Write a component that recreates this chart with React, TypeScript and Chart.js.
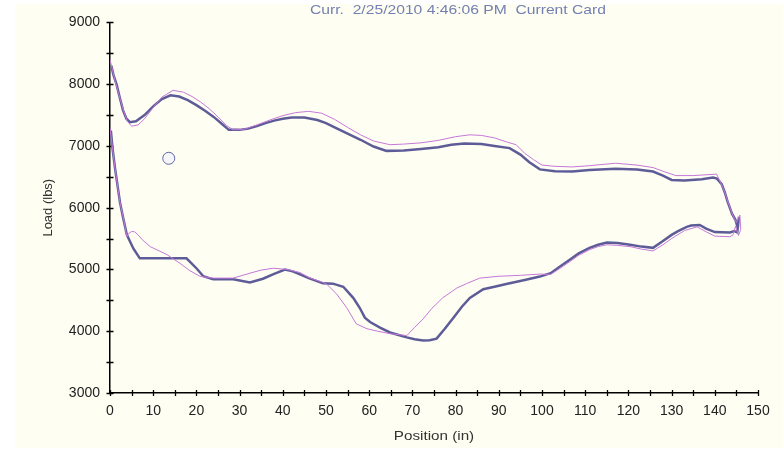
import { useEffect, useRef } from "react";
import { Chart, registerables } from "chart.js";

Chart.register(...registerables);

const titleText = "Curr.  2/25/2010 4:46:06 PM  Current Card";
const xTitle = "Position (in)";
const yTitle = "Load (lbs)";

// Thick (dark) card: upper stroke left->right, then lower stroke right->left
const darkPos = [
  0.3, 0.8, 1.5, 2.2, 3, 3.8, 4.6, 6, 8, 10, 12, 14, 16, 18, 20, 22, 24, 26, 27.5, 30, 32, 34, 36, 38, 40, 42, 45, 48, 50, 52, 55, 58, 61, 64, 68, 72, 76, 79, 82, 86, 89, 92.5, 95, 97, 99.5, 103, 107, 111, 117, 122, 125.7, 128, 130, 133, 137, 139.6, 140.5, 141.6, 142.3, 143, 144, 144.8, 145.3, 145.6, 145.2, 144.5,
  143.5, 140, 138, 136.5, 134.5, 133.5, 131.5, 130, 128, 125.7, 123, 120.4, 117.5, 115, 113, 111, 108.5, 106.5, 104, 102, 99.5, 96, 92, 89, 86.4, 83.3, 81.5, 79.5, 77.5, 75.6, 74, 72.5, 70.5, 68.7, 66.8, 64.8, 62.5, 60.2, 59, 57.8, 56.3, 54, 51.6, 49.3, 46, 44, 42.3, 40.5, 38, 35.4, 32.4, 28.5, 23.9, 21.6, 20, 17.7, 12, 6.9, 5.4, 3.9, 3, 2.3, 1.2, 0.6, 0.2,
];
const darkLoad = [
  8300, 8150, 8000, 7800, 7580, 7440, 7385, 7400, 7500, 7640, 7760, 7820, 7800, 7740, 7660, 7570, 7470, 7350, 7260, 7260, 7280, 7320, 7370, 7410, 7440, 7460, 7460, 7420, 7370, 7300, 7200, 7100, 6990, 6920, 6925, 6950, 6980, 7020, 7040, 7030, 7000, 6965, 6860, 6740, 6620, 6590, 6585, 6610, 6630, 6620, 6585, 6520, 6450, 6440, 6460, 6490, 6470, 6380, 6250, 6090, 5900, 5800, 5680, 5850, 5600, 5620,
  5600, 5605, 5660, 5720, 5710, 5690, 5620, 5560, 5460, 5350, 5370, 5400, 5430, 5437, 5400, 5350, 5260, 5160, 5040, 4940, 4885, 4830, 4770, 4720, 4680, 4540, 4400, 4220, 4040, 3880, 3855, 3850, 3870, 3900, 3940, 3980, 4060, 4150, 4220, 4380, 4540, 4720, 4770, 4775, 4860, 4920, 4970, 5000, 4930, 4850, 4790, 4840, 4840, 4890, 5020, 5180, 5180, 5180, 5340, 5560, 5850, 6090, 6620, 6950, 7250,
];

// Thin (pink) card
const pinkPos = [
  0, 0.5, 1.2, 2, 3, 4, 5, 6.5, 8, 10, 12, 14.6, 17, 19, 21, 23, 25, 27, 28.5, 31, 34, 37, 40, 43, 46, 49, 52, 55, 58, 61, 64.8, 68, 72, 76, 80, 83.3, 86, 89, 92, 94, 96, 98, 100, 103, 107, 111, 117, 122, 125.7, 128, 131, 135, 139.6, 140.4, 141.4, 142.3, 143.2, 144.2, 145, 145.8, 146, 145.5, 144.8, 144.2,
  143.5, 140, 138, 135.9, 133, 130, 128, 125.7, 123, 120.4, 117.5, 115, 113, 111, 108.5, 106.5, 104, 102, 99.5, 95, 90, 85.6, 82.5, 80.3, 77, 74.5, 72.5, 70.5, 68.7, 66.8, 64.8, 62, 59.5, 57, 54.8, 52.5, 50.2, 49.3, 46, 44, 41, 37.8, 35, 32.4, 28.5, 24, 20.8, 18.5, 16.2, 13.2, 9.3, 7.5, 6.5, 5.7, 5, 4.3, 3.9, 3.2, 2.3, 1.2, 0.5, 0,
];
const pinkLoad = [
  8400, 8250, 8050, 7850, 7600, 7400, 7320, 7340, 7440, 7620, 7790, 7900, 7870, 7800, 7710, 7600, 7470, 7330, 7260, 7270, 7340, 7420, 7490, 7540, 7560, 7530, 7430, 7300, 7180, 7080, 7020, 7030, 7050, 7090, 7150, 7180, 7170, 7130, 7060, 7020, 6880, 6780, 6690, 6670, 6660, 6680, 6720, 6690, 6650, 6590, 6520, 6520, 6540, 6545, 6400, 6250, 6060, 5870, 5760, 5880, 5650, 5550, 5700, 5560,
  5530, 5540, 5610, 5690, 5630, 5500, 5400, 5300, 5330, 5370, 5390, 5400, 5370, 5320, 5230, 5130, 5010, 4920, 4925, 4905, 4890, 4860, 4770, 4700, 4540, 4370, 4200, 4060, 3930, 3945, 3960, 4000, 4040, 4120, 4380, 4600, 4760, 4790, 4870, 4950, 5000, 5020, 4990, 4940, 4860, 4860, 4890, 4980, 5100, 5240, 5370, 5480, 5560, 5610, 5615, 5580, 5530, 5800, 6090, 6620, 7000, 7300,
];

// Small circle marker
const markerPos = [13.6];
const markerLoad = [6800];

const xMin = 0, xMax = 150, xStep = 5, xLabelEvery = 10;
const yMin = 3000, yMax = 9000, yStep = 500, yLabelEvery = 1000;

const FONT = "'Liberation Sans', Arial, sans-serif";

const toPts = (xs: number[], ys: number[]) => xs.map((x, i) => ({ x, y: ys[i] }));

const crossTicks = {
  id: "crossTicks",
  beforeDatasetsDraw(chart: any) {
    const ctx = chart.ctx;
    const xs = chart.scales.x;
    const ys = chart.scales.y;
    const area = chart.chartArea;
    ctx.save();
    ctx.strokeStyle = "#000";
    ctx.lineWidth = 1.3;
    ctx.beginPath();
    xs.ticks.forEach((t: any) => {
      const px = Math.round(xs.getPixelForValue(t.value)) + 0.5;
      ctx.moveTo(px, area.bottom - 3);
      ctx.lineTo(px, area.bottom + 3);
    });
    ys.ticks.forEach((t: any) => {
      const py = Math.round(ys.getPixelForValue(t.value)) + 0.5;
      ctx.moveTo(area.left - 3.5, py);
      ctx.lineTo(area.left + 3.5, py);
    });
    ctx.stroke();
    ctx.restore();
  },
  afterDraw(chart: any) {
    const ctx = chart.ctx;
    const area = chart.chartArea;
    ctx.save();
    ctx.fillStyle = "#7480b4";
    ctx.font = `13.5px ${FONT}`;
    ctx.textAlign = "center";
    ctx.textBaseline = "alphabetic";
    ctx.save();
    ctx.translate(443, 10);
    ctx.scale(1.16, 1);
    ctx.fillText(titleText, 0, 0);
    ctx.restore();

    ctx.fillStyle = "#333";
    ctx.font = `13px ${FONT}`;
    ctx.textBaseline = "middle";
    ctx.save();
    ctx.translate((area.left + area.right) / 2, 432);
    ctx.scale(1.17, 1);
    ctx.fillText(xTitle, 0, 0);
    ctx.restore();

    ctx.translate(33, (area.top + area.bottom) / 2);
    ctx.rotate(-Math.PI / 2);
    ctx.fillText(yTitle, 0, 0);
    ctx.restore();
  },
};

export default function App() {
  const ref = useRef<HTMLCanvasElement | null>(null);
  useEffect(() => {
    if (!ref.current) return;
    const chart = new Chart(ref.current, {
      type: "scatter",
      data: {
        datasets: [
          {
            label: "pink",
            data: toPts(pinkPos, pinkLoad),
            showLine: true,
            borderColor: "#c678d8",
            borderWidth: 1,
            pointRadius: 0,
            tension: 0,
            order: 0,
          },
          {
            label: "dark",
            data: toPts(darkPos, darkLoad),
            showLine: true,
            borderColor: "#5d5c98",
            borderWidth: 2.5,
            pointRadius: 0,
            tension: 0,
            order: 1,
          },
          {
            label: "marker",
            data: toPts(markerPos, markerLoad),
            showLine: false,
            pointRadius: 6,
            pointStyle: "circle",
            borderColor: "#5d68a8",
            backgroundColor: "#f6f6f8",
            borderWidth: 1,
            order: 2,
          } as any,
        ],
      },
      options: {
        animation: false,
        responsive: false,
        maintainAspectRatio: false,
        layout: { padding: { left: 0, right: 25, top: 14, bottom: 0 } },
        plugins: { legend: { display: false }, title: { display: false }, tooltip: { enabled: false } },
        scales: {
          x: {
            type: "linear",
            min: xMin,
            max: xMax,
            grid: { display: false, drawTicks: false },
            border: { display: true, color: "#000", width: 1.5 },
            ticks: {
              stepSize: xStep,
              autoSkip: false,
              maxRotation: 0,
              padding: 10,
              color: "#222",
              font: { family: FONT, size: 14 },
              callback: (v: any) => (Number(v) % xLabelEvery === 0 ? String(v) : ""),
            },
            afterFit: (s: any) => {
              s.height = 55;
            },
          },
          y: {
            type: "linear",
            min: yMin,
            max: yMax,
            grid: { display: false, drawTicks: false },
            border: { display: true, color: "#000", width: 1.5 },
            ticks: {
              stepSize: yStep,
              autoSkip: false,
              padding: 10,
              color: "#222",
              font: { family: FONT, size: 14 },
              callback: (v: any) => (Number(v) % yLabelEvery === 0 ? String(v) : ""),
            },
            afterFit: (s: any) => {
              s.width = 95;
            },
          },
        },
      },
      plugins: [crossTicks],
    });
    return () => chart.destroy();
  }, []);

  return (
    <div style={{ position: "fixed", left: 0, top: 0, width: 783, height: 450, background: "#ffffff" }}>
      <canvas
        ref={ref}
        width={768}
        height={444}
        style={{ position: "absolute", left: 15, top: 4, width: 768, height: 444, background: "#fefef2" }}
      />
    </div>
  );
}
